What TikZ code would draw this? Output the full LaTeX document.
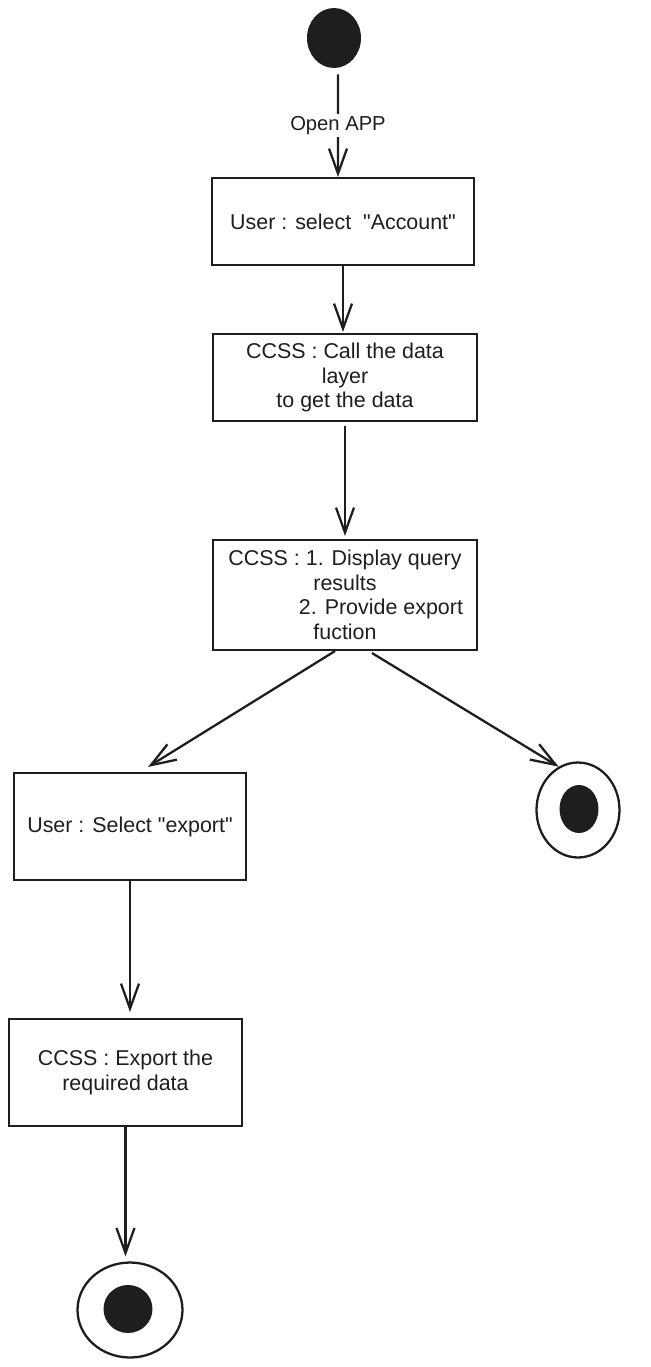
\documentclass[tikz,border=0pt]{standalone}
\usepackage{fontspec}
\setmainfont{Liberation Sans}
\usetikzlibrary{arrows.meta,positioning,calc,shapes.geometric}
\definecolor{inkblk}{RGB}{30,30,30}
\tikzset{
  actbox/.style={draw=inkblk, line width=1.2pt, align=center, inner sep=2pt,
                 text=inkblk, font=\fontsize{12.2}{14}\selectfont},
  flowarr/.style={-{Straight Barb[length=5mm, width=3.6mm]}, inkblk, line width=1.3pt},
  flowlab/.style={fill=white, inner sep=1.5pt, text=inkblk, font=\fontsize{11.5}{14}\selectfont},
  startdot/.style={ellipse, fill=inkblk, inner sep=0pt},
  endring/.style={ellipse, draw=inkblk, line width=1.3pt, fill=white, inner sep=0pt},
  enddot/.style={ellipse, fill=inkblk, inner sep=0pt},
}

\begin{document}
\begin{tikzpicture}[x=0.02cm, y=-0.02cm]
  \useasboundingbox (0,0) rectangle (651,1367);
  % states and actions
  \node[startdot, minimum width=1.08cm, minimum height=1.2cm] (init) at (334,38) {};
  \node[actbox, minimum width=5.24cm, minimum height=1.74cm] (acct) at (343,221.5)
       {User : select~~\textquotedbl Account\textquotedbl};
  \node[actbox, minimum width=5.28cm, minimum height=1.74cm] (query) at (345,377.5)
       {CCSS : Call the data\\layer\\to get the data};
  \node[actbox, minimum width=5.28cm, minimum height=2.2cm] (show) at (345,595)
       {CCSS : 1. Display query\\results\\\hspace*{1.44cm}2. Provide export\\fuction};
  \node[actbox, minimum width=4.64cm, minimum height=2.14cm] (pick) at (130,826.5)
       {User : Select \textquotedbl export\textquotedbl};
  \node[actbox, minimum width=4.66cm, minimum height=2.14cm] (dump) at (125.5,1072.5)
       {CCSS : Export the\\required data};
  \node[endring, minimum width=1.66cm, minimum height=1.9cm] (fin1) at (578,810) {};
  \node[enddot, minimum width=0.78cm, minimum height=0.96cm] (fin1dot) at (579,809) {};
  \node[endring, minimum width=2.1cm, minimum height=1.9cm] (fin2) at (130,1310) {};
  \node[enddot, minimum width=0.98cm, minimum height=0.96cm] (fin2dot) at (128,1309) {};
  % flows
  \draw[flowarr] ([xshift=0.08cm,yshift=-0.12cm]init.south)
       -- node[flowlab] {Open APP} ([xshift=-0.1cm]acct.north);
  \draw[flowarr] (acct.south) -- ([yshift=0.02cm]acct.south |- query.north);
  \draw[flowarr] ([yshift=-0.08cm]query.south) -- ([yshift=0.06cm]show.north);
  \draw[flowarr] ([xshift=-0.2cm]show.south) -- ([xshift=0.36cm,yshift=0.1cm]pick.north);
  \draw[flowarr] ([xshift=0.54cm,yshift=-0.04cm]show.south) -- (fin1.114);
  \draw[flowarr] (pick.south) -- ([yshift=0.12cm]pick.south |- dump.north);
  \draw[flowarr] (dump.south) -- ([yshift=0.1cm]dump.south |- fin2.north);
\end{tikzpicture}
\end{document}
